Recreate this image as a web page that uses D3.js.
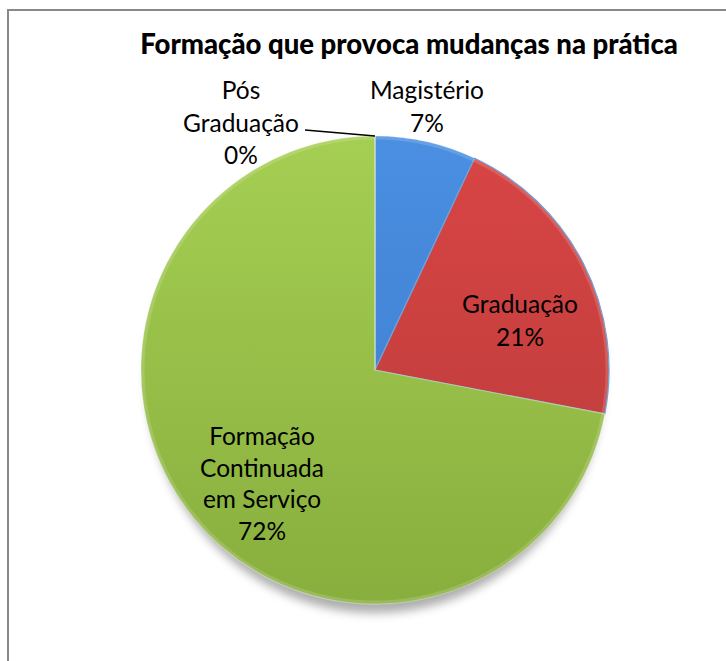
<!DOCTYPE html>
<html><head><meta charset="utf-8">
<script src="https://cdn.jsdelivr.net/npm/d3@7"></script>
<style>body{margin:0;background:#fff}svg{display:block}</style>
</head><body>
<script>
const title = "Formação que provoca mudanças na prática";
const categories = ["Magistério", "Graduação", "Formação Continuada em Serviço", "Pós Graduação"];
const labelLines = [["Magistério"], ["Graduação"], ["Formação", "Continuada", "em Serviço"], ["Pós", "Graduação"]];
const values = [7, 21, 72, 0];
const colorsTop = ["#4A8FE2", "#D94545", "#A5CF53"];
const colorsBot = ["#3C79C8", "#B63B39", "#88AE3D"];

const W = 726, H = 661;
const svg = d3.select("body").append("svg").attr("width", W).attr("height", H);
const defs = svg.append("defs");
const font = "Lato, 'Open Sans', sans-serif";

// border
svg.append("path").attr("d", `M8,${H+5} V10 H${W+5}`).attr("fill", "none")
  .attr("stroke", "#898989").attr("stroke-width", 2);

// title
const t = svg.append("text").attr("x", 409).attr("y", 54).attr("text-anchor", "middle")
  .attr("font-family", font).attr("font-weight", "900").attr("font-size", 22)
  .attr("fill", "#000").text(title);
const tw = t.node().getComputedTextLength();
t.attr("font-size", 22 * 538 / tw);

const cx = 375, cy = 370, R = 234;
const g = svg.append("g").attr("transform", `translate(${cx},${cy})`);

// shadow filter
const f = defs.append("filter").attr("id", "sh").attr("x", "-20%").attr("y", "-20%").attr("width", "140%").attr("height", "140%");
f.append("feGaussianBlur").attr("stdDeviation", 5);
g.append("ellipse").attr("cx", 0).attr("cy", 9).attr("rx", R - 6).attr("ry", R)
  .attr("fill", "#777").attr("opacity", 0.6).attr("filter", "url(#sh)");

colorsTop.forEach((c, i) => {
  const lg = defs.append("linearGradient").attr("id", "grad" + i)
    .attr("gradientUnits", "userSpaceOnUse").attr("x1", 0).attr("y1", -R).attr("x2", 0).attr("y2", R);
  lg.append("stop").attr("offset", "0%").attr("stop-color", c);
  lg.append("stop").attr("offset", "100%").attr("stop-color", colorsBot[i]);
});

const pie = d3.pie().sort(null).value(d => d);
const arcs = pie(values);
const arc = d3.arc().innerRadius(0).outerRadius(R);

g.selectAll("path.slice").data(arcs).join("path").attr("class", "slice")
  .attr("d", arc)
  .attr("fill", (d, i) => i < 3 ? `url(#grad${i})` : "none")
  .attr("stroke", (d, i) => i === 1 ? "#6FA0D8" : "rgba(255,255,255,0.35)")
  .attr("stroke-width", 1.2);

// bevel highlight on rim
g.append("circle").attr("r", R - 2).attr("fill", "none")
  .attr("stroke", "rgba(255,255,255,0.15)").attr("stroke-width", 3);

// labels
const labelPos = [[427, 91], [520, 305], [262, 437], [241, 91]];
const labels = svg.append("g").attr("font-family", font).attr("fill", "#000");
const lineH = 32.5;
const probe = labels.append("text").attr("font-size", 20).text("Magistério");
const scale = 114 / probe.node().getComputedTextLength();
probe.remove();
const fs = 20 * scale;

arcs.forEach((d, i) => {
  const lines = labelLines[i].concat([values[i] + "%"]);
  const tx = labels.append("text").attr("text-anchor", "middle").attr("font-size", fs)
    .attr("x", labelPos[i][0]).attr("y", labelPos[i][1] + 8);
  lines.forEach((l, j) => {
    tx.append("tspan").attr("x", labelPos[i][0]).attr("dy", j === 0 ? 0 : (i === 2 ? 31.5 : lineH)).text(l);
  });
});

// leader line for the zero slice
const zeroAngle = arcs[3].startAngle;
const px = cx + R * Math.sin(zeroAngle), py = cy - R * Math.cos(zeroAngle);
svg.append("path").attr("d", `M305,130 L${px},${py}`).attr("fill", "none")
  .attr("stroke", "#000").attr("stroke-width", 1.3);
</script>
</body></html>
